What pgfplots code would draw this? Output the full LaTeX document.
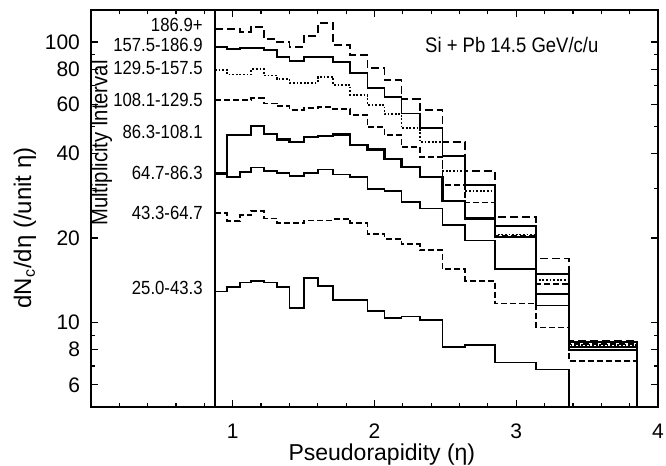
\documentclass[border=0pt]{standalone}
\usepackage{fontspec}
\setmainfont{Liberation Sans}
\newfontfamily\cond{Liberation Sans}[FakeStretch=0.88]
\usepackage{pgfplots}
\pgfplotsset{compat=1.18}
\begin{document}
\begin{tikzpicture}
\begin{axis}[
  scale only axis, width=283.5pt, height=198.5pt,
  xmin=0, xmax=4, ymin=5, ymax=130, ymode=log,
  clip=false,
  xtick={1,2,3,4},
  minor xtick={0.2,0.4,0.6,0.8,1.2,1.4,1.6,1.8,2.2,2.4,2.6,2.8,3.2,3.4,3.6,3.8},
  ytick={6,8,10,20,40,60,80,100},
  yticklabels={6,8,10,20,40,60,80,100},
  minor ytick={5,7,9,30,50,70,90},
  major tick length=3.5pt, minor tick length=2pt,
  tick style={black, line width=0.6pt},
  axis line style={line width=1pt},
  /pgf/number format/assume math mode=true,
  ticklabel style={font=\fontsize{10.5}{12}\selectfont},
  xticklabel style={yshift=-5pt},
  yticklabel style={xshift=-2pt},
  xlabel={Pseudorapidity (η)},
  ylabel={dN\textsubscript{c}/dη (/unit η)},
  xlabel style={font=\fontsize{11.5}{13}\selectfont, at={(axis description cs:0.513,-0.1209)}, anchor=center},
  ylabel style={font=\fontsize{12}{14}\selectfont, at={(axis description cs:-0.1164,0.451)}, anchor=center},
]
% separator line
\addplot[black, line width=1pt, mark=none] coordinates {(0.875,5) (0.875,130)};

% 186.9+
\addplot[const plot, mark=none, black, line width=0.9pt, dash pattern=on 4pt off 2pt] coordinates {
(0.875,111.3)(0.96,111.3)(1.05,108.8)(1.13,113.4)(1.22,102.5)(1.31,100.2)(1.40,96.2)(1.50,105.3)(1.60,116.6)(1.71,97.6)(1.83,89.9)(1.95,80.5)(2.07,73.2)(2.19,62.6)(2.32,57.2)(2.48,43.9)(2.64,34.6)(2.85,23.7)(3.14,16.9)(3.37,8.6)(3.85,5)};
% 157.5-186.9
\addplot[const plot, mark=none, black, line width=0.9pt] coordinates {
(0.875,95.7)(0.96,94.2)(1.05,94.9)(1.13,95.4)(1.22,93.6)(1.31,88.2)(1.40,85.8)(1.50,88.2)(1.60,88.2)(1.71,85.0)(1.83,77.3)(1.95,68.7)(2.07,63.8)(2.19,55.6)(2.32,49.2)(2.48,39.3)(2.64,31.0)(2.85,22.1)(3.14,14.9)(3.37,8.5)(3.85,5)};
% 129.5-157.5
\addplot[const plot, mark=none, black, line width=0.9pt, dash pattern=on 0.9pt off 0.9pt] coordinates {
(0.875,79.4)(0.96,76.6)(1.05,76.6)(1.13,79.9)(1.22,75.9)(1.31,73.8)(1.40,71.6)(1.50,71.6)(1.60,74.8)(1.71,70.2)(1.83,64.7)(1.95,59.6)(2.07,55.3)(2.19,49.2)(2.32,44.0)(2.48,34.6)(2.64,29.4)(2.85,20.6)(3.14,14.2)(3.37,8.3)(3.85,5)};
% 108.1-129.5
\addplot[const plot, mark=none, black, line width=0.9pt, dash pattern=on 3pt off 1.5pt] coordinates {
(0.875,62.1)(0.96,62.1)(1.05,62.1)(1.13,63.0)(1.22,60.4)(1.31,59.1)(1.40,57.2)(1.50,58.1)(1.60,58.5)(1.71,57.5)(1.83,54.9)(1.95,49.8)(2.07,46.6)(2.19,42.3)(2.32,38.9)(2.48,31.0)(2.64,26.8)(2.85,20.4)(3.14,13.7)(3.37,8.4)(3.85,5)};
% 86.3-108.1
\addplot[const plot, mark=none, black, line width=1.1pt] coordinates {
(0.875,34.0)(0.96,46.6)(1.05,46.6)(1.13,50.1)(1.22,46.9)(1.31,44.9)(1.40,43.9)(1.50,45.7)(1.60,46.3)(1.71,46.8)(1.83,42.9)(1.95,41.4)(2.07,38.2)(2.19,35.9)(2.32,33.0)(2.48,27.2)(2.64,23.5)(2.85,20.2)(3.14,12.6)(3.37,8.2)(3.85,5)};
% 64.7-86.3
\addplot[const plot, mark=none, black, line width=0.9pt] coordinates {
(0.875,34.0)(0.96,33.0)(1.05,34.4)(1.13,35.7)(1.22,34.6)(1.31,34.1)(1.40,33.3)(1.50,34.1)(1.60,35.1)(1.71,33.7)(1.83,33.0)(1.95,29.9)(2.07,29.4)(2.19,26.9)(2.32,25.5)(2.48,22.3)(2.64,19.6)(2.85,15.5)(3.14,11.5)(3.37,8.0)(3.85,5)};
% 43.3-64.7
\addplot[const plot, mark=none, black, line width=0.9pt, dash pattern=on 3pt off 1.5pt] coordinates {
(0.875,24.5)(0.96,23.0)(1.05,24.1)(1.13,25.0)(1.22,23.5)(1.31,22.6)(1.40,22.6)(1.50,23.1)(1.60,23.1)(1.71,23.4)(1.83,22.6)(1.95,20.7)(2.07,19.9)(2.19,19.0)(2.32,18.1)(2.48,15.5)(2.64,14.1)(2.85,11.7)(3.14,9.6)(3.37,7.3)(3.85,5)};
% 25.0-43.3
\addplot[const plot, mark=none, black, line width=0.9pt] coordinates {
(0.875,12.9)(0.96,13.4)(1.05,13.9)(1.13,14.1)(1.22,13.9)(1.31,13.4)(1.40,11.3)(1.50,14.4)(1.60,13.5)(1.71,12.0)(1.83,12.0)(1.95,11.0)(2.07,10.4)(2.19,10.5)(2.32,10.2)(2.48,8.2)(2.64,8.3)(2.85,7.2)(3.14,6.8)(3.37,5)};

% interval labels
\begin{scope}[every node/.style={anchor=east, inner sep=0pt, font=\cond\fontsize{9.5}{10}\selectfont}]
\node at (axis cs:0.79,115) {186.9+};
\node at (axis cs:0.79,97.6) {157.5-186.9};
\node at (axis cs:0.79,80.8) {129.5-157.5};
\node at (axis cs:0.79,62.1) {108.1-129.5};
\node at (axis cs:0.79,47.7) {86.3-108.1};
\node at (axis cs:0.79,34.1) {64.7-86.3};
\node at (axis cs:0.79,24.5) {43.3-64.7};
\node at (axis cs:0.79,13.3) {25.0-43.3};
\end{scope}
\node[rotate=90, anchor=center, inner sep=0pt, font=\cond\fontsize{11.5}{12}\selectfont] at (axis cs:0.073,43.6) {Multiplicity Interval};
\node[anchor=west, inner sep=0pt, font=\cond\fontsize{10.5}{12}\selectfont] at (axis cs:2.355,97.6) {Si + Pb 14.5 GeV/c/u};
\end{axis}
\pgfresetboundingbox
\path (current axis.south west) ++(-45.5pt,-29.5pt) rectangle ++(333pt,233pt);
\end{tikzpicture}
\end{document}
